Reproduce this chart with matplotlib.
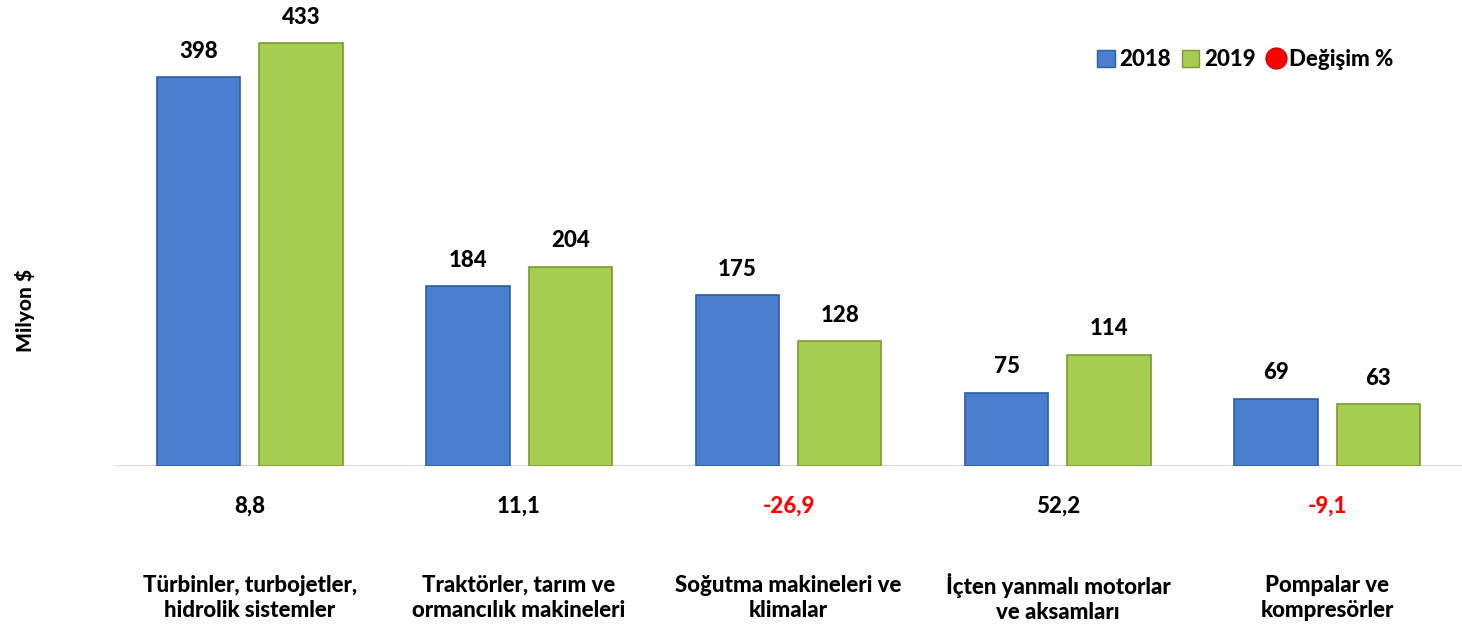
import matplotlib.pyplot as plt
import matplotlib.patheffects as pe
from matplotlib import font_manager as fm
from matplotlib.patches import Patch
from matplotlib.lines import Line2D
import numpy as np

# heavier Lato face, read from its file
files = {f.fname.split('/')[-1]: f.fname for f in fm.fontManager.ttflist}
bold_file = None
for name in ['Lato-Heavy.ttf', 'Lato-Black.ttf', 'Lato-ExtraBold.ttf', 'Lato-Bold.ttf']:
    if name in files:
        bold_file = files[name]
        break


def fp(size):
    if bold_file:
        return fm.FontProperties(fname=bold_file, size=size)
    return fm.FontProperties(family='DejaVu Sans', weight='bold', size=size)


categories = ['Türbinler, turbojetler,\nhidrolik sistemler',
              'Traktörler, tarım ve\normancılık makineleri',
              'Soğutma makineleri ve\nklimalar',
              'İçten yanmalı motorlar\nve aksamları',
              'Pompalar ve\nkompresörler']
v2018 = [398, 184, 175, 75, 69]
v2019 = [433, 204, 128, 114, 63]
change = [8.8, 11.1, -26.9, 52.2, -9.1]

blue, blue_edge = '#4a7fd0', '#2d5c9f'
green, green_edge = '#a6cd50', '#7b9a35'

fig = plt.figure(figsize=(14.62, 6.33), dpi=100)
ax = fig.add_axes([115 / 1462, 1 - 466 / 633, 1347 / 1462, 466 / 633])

x = np.arange(len(categories))
w = 0.31
off = 0.19
shadow = [pe.SimplePatchShadow(offset=(0, -4), shadow_rgbFace='#707070', alpha=0.4), pe.Normal()]

b1 = ax.bar(x - off, v2018, w, color=blue, edgecolor=blue_edge, linewidth=1.2, zorder=3)
b2 = ax.bar(x + off, v2019, w, color=green, edgecolor=green_edge, linewidth=1.2, zorder=3)
for b in list(b1) + list(b2):
    b.set_path_effects(shadow)

fs = 16
for xi, v in zip(x - off, v2018):
    ax.annotate(str(v), (xi, v), xytext=(0, 11), textcoords='offset points',
                ha='center', va='bottom', fontproperties=fp(fs))
for xi, v in zip(x + off, v2019):
    ax.annotate(str(v), (xi, v), xytext=(0, 11), textcoords='offset points',
                ha='center', va='bottom', fontproperties=fp(fs))

for xi, c in zip(x, change):
    ax.annotate(f'{c:.1f}'.replace('.', ','), (xi, 0), xytext=(0, -29),
                textcoords='offset points', ha='center', va='center',
                fontproperties=fp(fs), color='red' if c < 0 else 'black',
                annotation_clip=False)
for xi, c in zip(x, categories):
    ax.annotate(c, (xi, 0), xytext=(0, -95), textcoords='offset points',
                ha='center', va='center', fontproperties=fp(fs),
                linespacing=1.25, annotation_clip=False)

ax.axhline(0, color='#d9d9d9', linewidth=1.5, zorder=1)
ax.set_xlim(-0.5, len(categories) - 0.5)
ax.set_ylim(0, 477)
ax.axis('off')

fig.text(25 / 1462, 1 - 310 / 633, 'Milyon $', rotation=90, ha='center', va='center',
         fontproperties=fp(15))

handles = [Patch(facecolor=blue, edgecolor=blue_edge, label='2018'),
           Patch(facecolor=green, edgecolor=green_edge, label='2019'),
           Line2D([], [], marker='o', linestyle='none', markersize=15,
                  markerfacecolor='red', markeredgecolor='#cc0000', label='Değişim %')]
ax.legend(handles=handles, loc='center', bbox_to_anchor=(1245 / 1462, 1 - 60 / 633),
          bbox_transform=fig.transFigure, ncol=3, frameon=False,
          handlelength=0.8, handleheight=0.8, handletextpad=0.2, columnspacing=0.5,
          prop=fp(fs))

fig.savefig('out.png', dpi=100)
